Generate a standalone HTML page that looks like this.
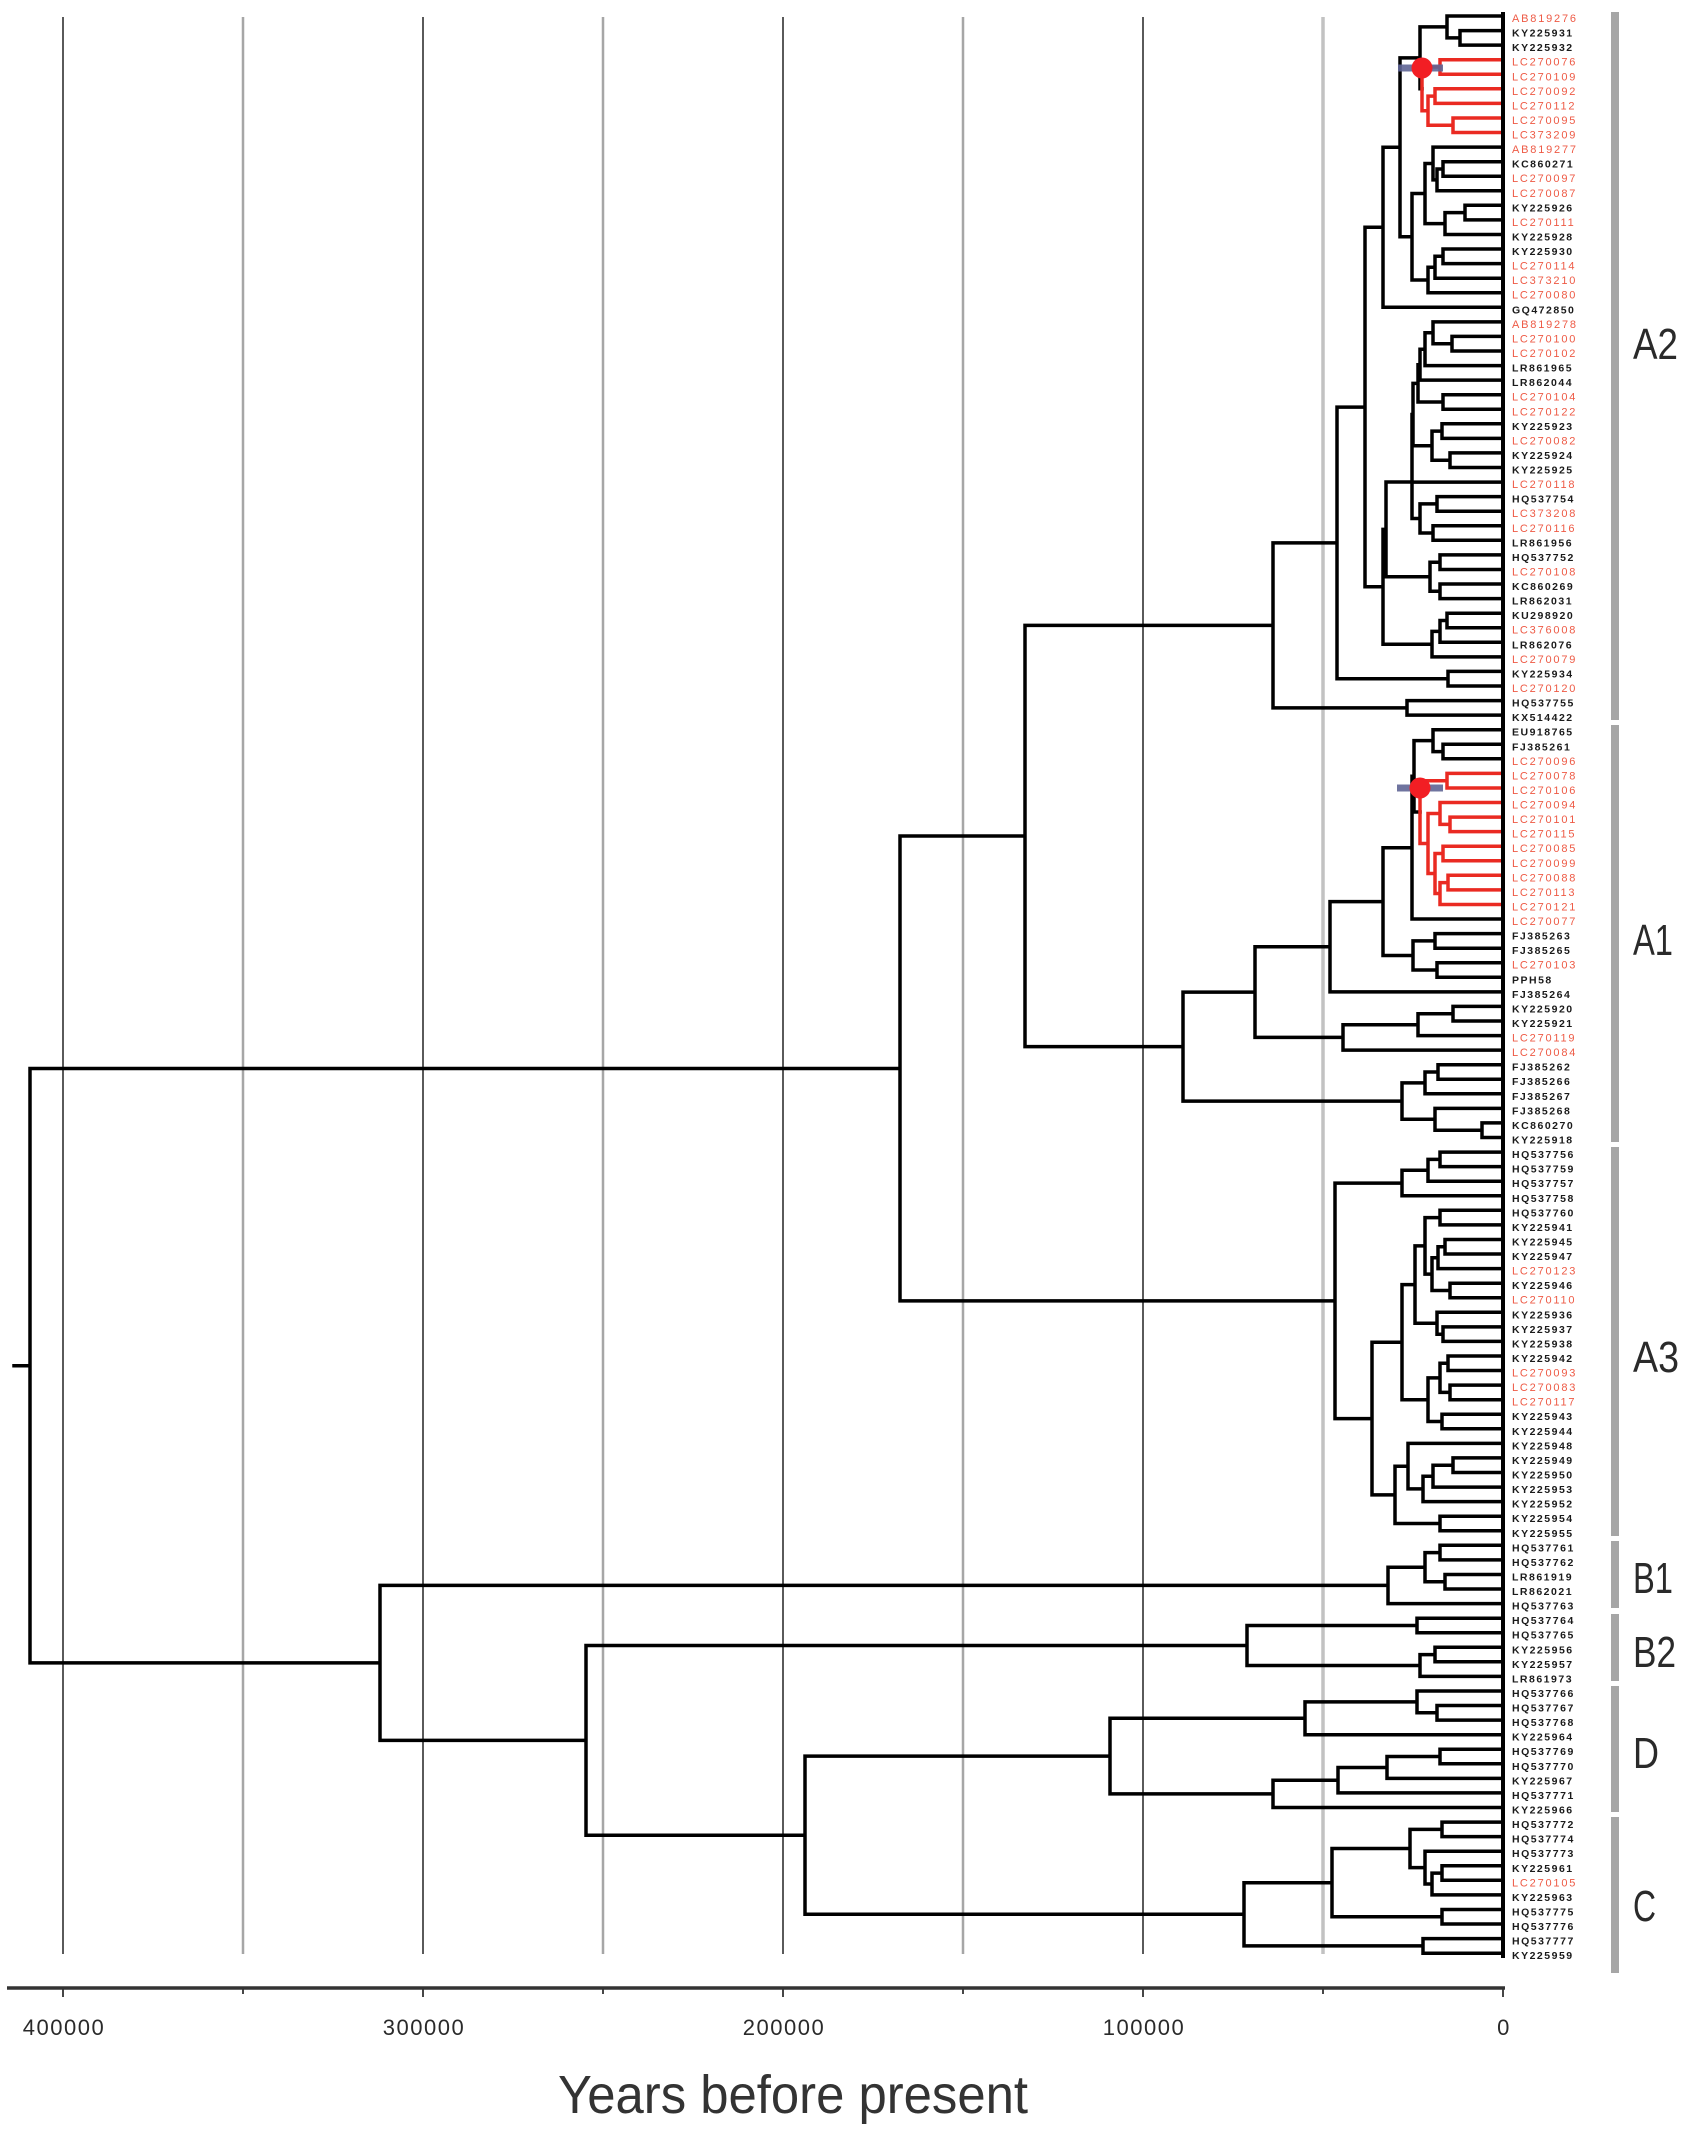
<!DOCTYPE html>
<html><head><meta charset="utf-8"><style>
html,body{margin:0;padding:0;background:#fff;}
svg{display:block;}
.lb text{font-family:"Liberation Sans",Arial,sans-serif;font-size:10.5px;font-weight:bold;letter-spacing:1.5px;fill:#1a1a1a;}
.lb text.r{fill:#ee5a45;font-weight:normal;letter-spacing:1.8px;font-size:11px;}
.cl{font-family:"Liberation Sans",Arial,sans-serif;font-size:44px;fill:#2a2a2a;}
.tk{font-family:"Liberation Sans",Arial,sans-serif;font-size:22px;letter-spacing:1.5px;fill:#2a2a2a;text-anchor:middle;}
</style></head><body>
<svg width="1690" height="2132" viewBox="0 0 1690 2132" xmlns="http://www.w3.org/2000/svg">
<rect width="1690" height="2132" fill="#fff"/>
<!-- gridlines -->
<g stroke-width="2">
<path d="M63 17V1954M423 17V1954M783 17V1954M1143 17V1954" stroke="#5a5a5a"/>
<path d="M243 17V1954M603 17V1954M963 17V1954" stroke="#a6a6a6" stroke-width="2.5"/>
<path d="M1323 17V1954" stroke="#c2c2c2" stroke-width="3.5"/>
</g>
<!-- black tree -->
<path fill="none" stroke="#000" stroke-width="3.5" stroke-linecap="square" stroke-linejoin="miter" d="
M1503 30.6H1460V45.1H1503
M1503 16H1447V37.85H1460
M1447 26.9H1420V88.8H1422
M1420 57.9H1400V236.7H1412
M1425 193.5H1412V280H1428
M1433 163.5H1425V223.6H1445
M1503 147.1H1433V179.9H1437
M1443 169H1437V190.8H1503
M1503 161.7H1443V176.2H1503
M1465 212.6H1445V234.5H1503
M1503 205.3H1465V219.9H1503
M1435 267.2H1428V292.7H1503
M1443 256.3H1435V278.2H1503
M1503 249H1443V263.6H1503
M1400 147.3H1383V307.3H1503
M1383 227.3H1365V586.8H1383
M1386 529.4H1383V644.2H1432
M1412 482H1386V576.8H1430
M1413 414.5H1412V518.5H1420M1412 482.1H1503
M1418 383.4H1413V445.7H1432
M1420 364.7H1418V402H1443
M1425 349.2H1420V380.1H1503
M1433 332.8H1425V365.6H1503
M1503 321.9H1433V343.7H1452
M1503 336.4H1452V351H1503
M1503 394.7H1443V409.3H1503
M1442 431.1H1432V460.2H1450
M1503 423.8H1442V438.4H1503
M1503 452.9H1450V467.5H1503
M1437 503.9H1420V533H1433
M1503 496.6H1437V511.2H1503
M1503 525.8H1433V540.3H1503
M1440 562.2H1430V591.3H1440
M1503 554.9H1440V569.5H1503
M1503 584H1440V598.6H1503
M1440 631.4H1432V656.9H1503
M1447 620.5H1440V642.3H1503
M1503 613.2H1447V627.7H1503
M1365 407.1H1337V678.7H1448
M1503 671.4H1448V686H1503
M1337 542.9H1273V707.9H1407
M1503 700.6H1407V715.1H1503
M1273 625.4H1025V1046.6H1183
M1255 992.1H1183V1101.1H1402
M1330 946.8H1255V1037.4H1343
M1383 901.6H1330V991.9H1503
M1412 847.7H1383V955.5H1413
M1414 776.3H1412V919H1503
M1433 740.6H1414V812H1420
M1503 729.7H1433V751.6H1443
M1503 744.3H1443V758.8H1503
M1435 940.9H1413V970H1437
M1503 933.6H1435V948.2H1503
M1503 962.7H1437V977.3H1503
M1418 1024.7H1343V1050.1H1503
M1453 1013.7H1418V1035.6H1503
M1503 1006.4H1453V1021H1503
M1425 1082.9H1402V1119.3H1435
M1438 1072H1425V1093.8H1503
M1503 1064.7H1438V1079.2H1503
M1503 1108.4H1435V1130.2H1482
M1503 1122.9H1482V1137.5H1503
M1402 1183.1H1335V1418.6H1372
M1428 1170.3H1402V1195.8H1503
M1440 1159.4H1428V1181.2H1503
M1503 1152.1H1440V1166.6H1503
M1402 1342.2H1372V1494.9H1395
M1415 1284.6H1402V1399.7H1428
M1425 1245.9H1415V1323.3H1437
M1440 1217.6H1425V1274.1H1432
M1503 1210.3H1440V1224.9H1503
M1438 1257.7H1432V1290.5H1450
M1445 1246.8H1438V1268.6H1503
M1503 1239.5H1445V1254H1503
M1503 1283.2H1450V1297.7H1503
M1503 1312.3H1437V1334.2H1443
M1503 1326.9H1443V1341.4H1503
M1440 1377.9H1428V1421.5H1442
M1448 1363.3H1440V1392.4H1450
M1503 1356H1448V1370.5H1503
M1503 1385.1H1450V1399.7H1503
M1503 1414.2H1442V1428.8H1503
M1408 1466.2H1395V1523.5H1440
M1503 1443.4H1408V1488.9H1423
M1433 1476.2H1423V1501.6H1503
M1453 1465.2H1433V1487.1H1503
M1503 1457.9H1453V1472.5H1503
M1503 1516.2H1440V1530.8H1503
M1025 836H900V1300.9H1335
M1425 1567.2H1388V1603.6H1503
M1440 1552.6H1425V1581.8H1445
M1503 1545.3H1440V1559.9H1503
M1503 1574.5H1445V1589H1503
M1417 1625.5H1247V1665.5H1420
M1503 1618.2H1417V1632.7H1503
M1435 1654.6H1420V1676.4H1503
M1503 1647.3H1435V1661.8H1503
M1305 1718.3H1110V1793.9H1273
M1417 1701.9H1305V1734.7H1503
M1503 1691H1417V1712.8H1437
M1503 1705.5H1437V1720.1H1503
M1338 1780.2H1273V1807.5H1503
M1387 1767.5H1338V1792.9H1503
M1440 1756.5H1387V1778.4H1503
M1503 1749.2H1440V1763.8H1503
M1332 1882.7H1244V1945.9H1423
M1410 1848.5H1332V1916.8H1442
M1442 1829.4H1410V1867.6H1425
M1503 1822.1H1442V1836.6H1503
M1503 1851.2H1425V1884H1432
M1442 1873.1H1432V1894.9H1503
M1503 1865.8H1442V1880.3H1503
M1503 1909.5H1442V1924H1503
M1503 1938.6H1423V1953.2H1503
M1110 1756.1H805V1914.3H1244
M1247 1645.5H586V1835.2H805
M1388 1585.4H380V1740.4H586
M900 1068.5H30V1662.9H380
M14 1365.7H30"/>
<!-- red clades -->
<path fill="none" stroke="#ea2a22" stroke-width="3.5" stroke-linecap="square" d="
M1440 67H1422V110.7H1428
M1503 59.7H1440V74.3H1503
M1435 96.1H1428V125.25H1453
M1503 88.8H1435V103.4H1503
M1503 118H1453V132.5H1503
M1447 780.7H1420V843.5H1428
M1503 773.4H1447V788H1503
M1440 813.5H1428V873.5H1435
M1503 802.5H1440V824.4H1450
M1503 817.1H1450V831.6H1503
M1443 853.5H1435V893.5H1440
M1503 846.2H1443V860.8H1503
M1448 882.6H1440V904.5H1503
M1503 875.3H1448V889.9H1503"/>
<!-- tip line -->
<path d="M1503 12V1958" stroke="#000" stroke-width="4"/>
<!-- HPD bars and dots -->
<rect x="1398" y="64.5" width="45" height="7" fill="#5f6595" opacity="0.9"/>
<circle cx="1422" cy="68" r="10.5" fill="#f21e24"/>
<rect x="1397" y="784.5" width="46" height="7" fill="#5f6595" opacity="0.9"/>
<circle cx="1420" cy="788" r="10.5" fill="#f21e24"/>
<!-- clade bars -->
<g fill="#a6a6a6">
<rect x="1611" y="12" width="8" height="708"/>
<rect x="1611" y="725" width="8" height="417"/>
<rect x="1611" y="1147" width="8" height="389"/>
<rect x="1611" y="1541" width="8" height="67"/>
<rect x="1611" y="1614" width="8" height="67"/>
<rect x="1611" y="1686" width="8" height="126"/>
<rect x="1611" y="1817" width="8" height="156"/>
</g>
<text class="cl" x="1633" y="359" textLength="45" lengthAdjust="spacingAndGlyphs">A2</text>
<text class="cl" x="1633" y="955" textLength="40" lengthAdjust="spacingAndGlyphs">A1</text>
<text class="cl" x="1633" y="1372" textLength="46" lengthAdjust="spacingAndGlyphs">A3</text>
<text class="cl" x="1633" y="1593" textLength="40" lengthAdjust="spacingAndGlyphs">B1</text>
<text class="cl" x="1633" y="1667" textLength="43" lengthAdjust="spacingAndGlyphs">B2</text>
<text class="cl" x="1633" y="1768" textLength="26" lengthAdjust="spacingAndGlyphs">D</text>
<text class="cl" x="1633" y="1921" textLength="23" lengthAdjust="spacingAndGlyphs">C</text>
<!-- leaf labels -->
<g class="lb" transform="translate(1512,0)">
<text class="r" y="22">AB819276</text>
<text y="36.6">KY225931</text>
<text y="51.1">KY225932</text>
<text class="r" y="65.7">LC270076</text>
<text class="r" y="80.3">LC270109</text>
<text class="r" y="94.8">LC270092</text>
<text class="r" y="109.4">LC270112</text>
<text class="r" y="124">LC270095</text>
<text class="r" y="138.5">LC373209</text>
<text class="r" y="153.1">AB819277</text>
<text y="167.7">KC860271</text>
<text class="r" y="182.2">LC270097</text>
<text class="r" y="196.8">LC270087</text>
<text y="211.3">KY225926</text>
<text class="r" y="225.9">LC270111</text>
<text y="240.5">KY225928</text>
<text y="255">KY225930</text>
<text class="r" y="269.6">LC270114</text>
<text class="r" y="284.2">LC373210</text>
<text class="r" y="298.7">LC270080</text>
<text y="313.3">GQ472850</text>
<text class="r" y="327.9">AB819278</text>
<text class="r" y="342.4">LC270100</text>
<text class="r" y="357">LC270102</text>
<text y="371.6">LR861965</text>
<text y="386.1">LR862044</text>
<text class="r" y="400.7">LC270104</text>
<text class="r" y="415.3">LC270122</text>
<text y="429.8">KY225923</text>
<text class="r" y="444.4">LC270082</text>
<text y="458.9">KY225924</text>
<text y="473.5">KY225925</text>
<text class="r" y="488.1">LC270118</text>
<text y="502.6">HQ537754</text>
<text class="r" y="517.2">LC373208</text>
<text class="r" y="531.8">LC270116</text>
<text y="546.3">LR861956</text>
<text y="560.9">HQ537752</text>
<text class="r" y="575.5">LC270108</text>
<text y="590">KC860269</text>
<text y="604.6">LR862031</text>
<text y="619.2">KU298920</text>
<text class="r" y="633.7">LC376008</text>
<text y="648.3">LR862076</text>
<text class="r" y="662.9">LC270079</text>
<text y="677.4">KY225934</text>
<text class="r" y="692">LC270120</text>
<text y="706.6">HQ537755</text>
<text y="721.1">KX514422</text>
<text y="735.7">EU918765</text>
<text y="750.3">FJ385261</text>
<text class="r" y="764.8">LC270096</text>
<text class="r" y="779.4">LC270078</text>
<text class="r" y="794">LC270106</text>
<text class="r" y="808.5">LC270094</text>
<text class="r" y="823.1">LC270101</text>
<text class="r" y="837.6">LC270115</text>
<text class="r" y="852.2">LC270085</text>
<text class="r" y="866.8">LC270099</text>
<text class="r" y="881.3">LC270088</text>
<text class="r" y="895.9">LC270113</text>
<text class="r" y="910.5">LC270121</text>
<text class="r" y="925">LC270077</text>
<text y="939.6">FJ385263</text>
<text y="954.2">FJ385265</text>
<text class="r" y="968.7">LC270103</text>
<text y="983.3">PPH58</text>
<text y="997.9">FJ385264</text>
<text y="1012.4">KY225920</text>
<text y="1027">KY225921</text>
<text class="r" y="1041.6">LC270119</text>
<text class="r" y="1056.1">LC270084</text>
<text y="1070.7">FJ385262</text>
<text y="1085.2">FJ385266</text>
<text y="1099.8">FJ385267</text>
<text y="1114.4">FJ385268</text>
<text y="1128.9">KC860270</text>
<text y="1143.5">KY225918</text>
<text y="1158.1">HQ537756</text>
<text y="1172.6">HQ537759</text>
<text y="1187.2">HQ537757</text>
<text y="1201.8">HQ537758</text>
<text y="1216.3">HQ537760</text>
<text y="1230.9">KY225941</text>
<text y="1245.5">KY225945</text>
<text y="1260">KY225947</text>
<text class="r" y="1274.6">LC270123</text>
<text y="1289.2">KY225946</text>
<text class="r" y="1303.7">LC270110</text>
<text y="1318.3">KY225936</text>
<text y="1332.9">KY225937</text>
<text y="1347.4">KY225938</text>
<text y="1362">KY225942</text>
<text class="r" y="1376.5">LC270093</text>
<text class="r" y="1391.1">LC270083</text>
<text class="r" y="1405.7">LC270117</text>
<text y="1420.2">KY225943</text>
<text y="1434.8">KY225944</text>
<text y="1449.4">KY225948</text>
<text y="1463.9">KY225949</text>
<text y="1478.5">KY225950</text>
<text y="1493.1">KY225953</text>
<text y="1507.6">KY225952</text>
<text y="1522.2">KY225954</text>
<text y="1536.8">KY225955</text>
<text y="1551.3">HQ537761</text>
<text y="1565.9">HQ537762</text>
<text y="1580.5">LR861919</text>
<text y="1595">LR862021</text>
<text y="1609.6">HQ537763</text>
<text y="1624.2">HQ537764</text>
<text y="1638.7">HQ537765</text>
<text y="1653.3">KY225956</text>
<text y="1667.8">KY225957</text>
<text y="1682.4">LR861973</text>
<text y="1697">HQ537766</text>
<text y="1711.5">HQ537767</text>
<text y="1726.1">HQ537768</text>
<text y="1740.7">KY225964</text>
<text y="1755.2">HQ537769</text>
<text y="1769.8">HQ537770</text>
<text y="1784.4">KY225967</text>
<text y="1798.9">HQ537771</text>
<text y="1813.5">KY225966</text>
<text y="1828.1">HQ537772</text>
<text y="1842.6">HQ537774</text>
<text y="1857.2">HQ537773</text>
<text y="1871.8">KY225961</text>
<text class="r" y="1886.3">LC270105</text>
<text y="1900.9">KY225963</text>
<text y="1915.5">HQ537775</text>
<text y="1930">HQ537776</text>
<text y="1944.6">HQ537777</text>
<text y="1959.2">KY225959</text>
</g>
<!-- axis -->
<path d="M7 1988H1505" stroke="#333" stroke-width="3.5"/>
<path d="M63 1988V1997M243 1988V1994M423 1988V1997M603 1988V1994M783 1988V1997M963 1988V1994M1143 1988V1997M1323 1988V1994M1503 1988V1997" stroke="#333" stroke-width="1.8"/>
<text class="tk" x="64" y="2035">400000</text>
<text class="tk" x="424" y="2035">300000</text>
<text class="tk" x="784" y="2035">200000</text>
<text class="tk" x="1144" y="2035">100000</text>
<text class="tk" x="1504" y="2035">0</text>
<text x="558" y="2113" textLength="470" lengthAdjust="spacingAndGlyphs" style="font-family:'Liberation Sans',Arial,sans-serif;font-size:54px;fill:#333;">Years before present</text>
</svg>
</body></html>
